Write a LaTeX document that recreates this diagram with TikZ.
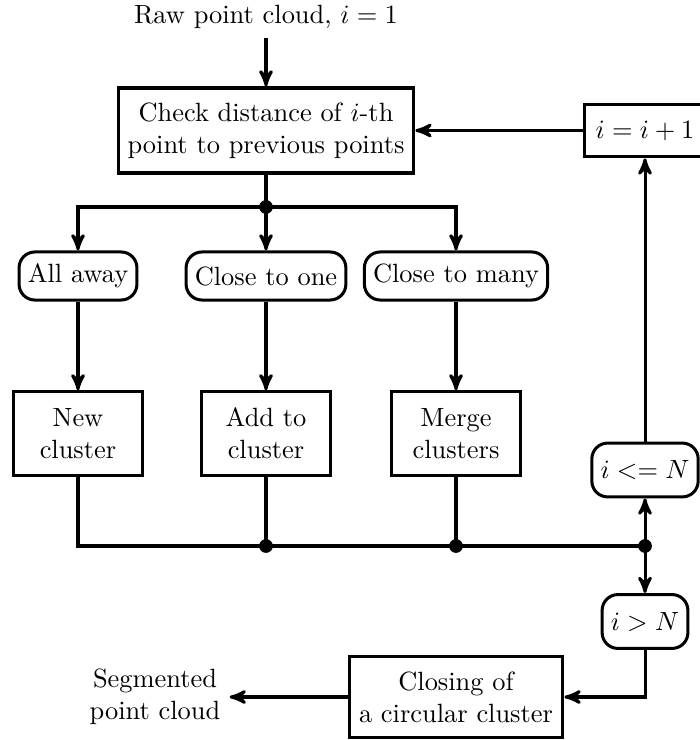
\documentclass[tikz,border=0pt]{standalone}
\usepackage{amsmath}
\usepackage{tikz}
\usetikzlibrary{calc}
\usetikzlibrary{arrows}

\begin{document}
\begin{tikzpicture}[x=0.3788pt,y=-0.3788pt,
    box/.style={draw,black,line width=1.15pt,align=center,inner sep=3pt},
    cond/.style={draw,black,line width=1.15pt,rounded corners=6pt,align=center,inner xsep=3.3pt,minimum height=18.2pt},
    flow/.style={black,line width=1.15pt,->,>=stealth'},
    link/.style={black,line width=1.15pt}]
    \useasboundingbox (0,0) rectangle (699,740);
    % input and distance check
    \node (raw) at (266,17) {Raw point cloud, $i=1$};
    \node[box,minimum width=112pt,minimum height=32.2pt] (check) at (266,130.5) {Check distance of $i$-th\\point to previous points};
    \node[box,minimum width=45.5pt,minimum height=20pt] (incr) at (645,130.5) {$i=i+1$};
    % three cases
    \node[cond] (away) at (78,276) {All away};
    \node[cond] (one) at (266,276) {Close to one};
    \node[cond] (many) at (456,276) {Close to many};
    \node[box,minimum width=49pt,minimum height=31.5pt] (newc) at (78,433.5) {New\\cluster};
    \node[box,minimum width=49pt,minimum height=31.5pt] (addc) at (266,433.5) {Add to\\cluster};
    \node[box,minimum width=49pt,minimum height=31.5pt] (merge) at (456,433.5) {Merge\\clusters};
    % loop test and output
    \node[cond,minimum height=20.4pt] (le) at (645,470) {$i<=N$};
    \node[cond,minimum height=20.4pt] (gt) at (645,621.5) {$i>N$};
    \node[box,minimum width=81pt,minimum height=31pt] (closing) at (456,697) {Closing of\\a circular cluster};
    \node[align=center] (seg) at (155,697) {Segmented\\point cloud};
    \coordinate (j0) at (266,207);
    \coordinate (j1) at (266,546);
    \coordinate (j2) at (456,546);
    \coordinate (j3) at (645,546);

    \draw[flow] (raw) -- (check);
    \draw[flow] (incr) -- (check);
    \draw[link] (check) -- (j0);
    \foreach \n in {away,many} {
      \draw[flow] (j0) -| (\n);
    }
    \draw[flow] (j0) -- (one);
    \foreach \a/\b in {away/newc,one/addc,many/merge} {
      \draw[flow] (\a) -- (\b);
    }
    \draw[link] (newc) |- (j3);
    \draw[link] (addc) -- (j1);
    \draw[link] (merge) -- (j2);
    \draw[flow] (j3) -- (le);
    \draw[flow] (le) -- (incr);
    \draw[flow] (j3) -- (gt);
    \draw[flow] (gt) |- (closing);
    \draw[flow] (closing) -- (seg);
    \foreach \j in {j0,j1,j2,j3} {
      \fill[black] (\j) circle (2.6pt);
    }
\end{tikzpicture}
\end{document}
